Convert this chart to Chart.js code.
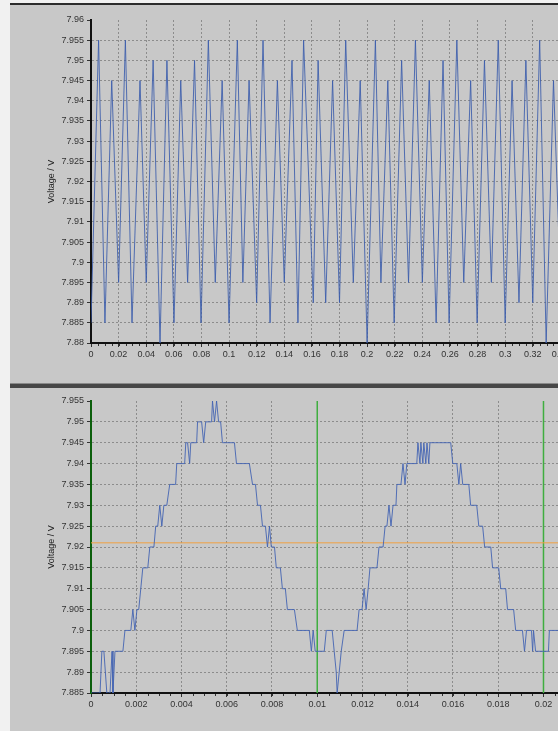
<!DOCTYPE html>
<html>
<head>
<meta charset="utf-8">
<script src="https://cdn.jsdelivr.net/npm/chart.js@4.4.1/dist/chart.umd.min.js"></script>
<style>
  body { margin: 0; width: 558px; height: 731px; overflow: hidden; background: #c8c8c8; position: relative; }
  .abs { position: absolute; }
  .box { position: absolute; overflow: hidden; }
</style>
</head>
<body>
<div class="abs" style="left:0;top:0;width:10px;height:731px;background:#f1f1f1"></div>
<div class="abs" style="left:10px;top:0;width:548px;height:3px;background:#f1f1f1"></div>
<div class="abs" style="left:10px;top:3px;width:548px;height:2px;background:#2c2c2c"></div>
<div class="box" style="left:10px;top:4px;width:548px;height:379px">
  <canvas id="topChart" width="590" height="379"></canvas>
</div>
<div class="abs" style="left:10px;top:383px;width:548px;height:5px;background:linear-gradient(#8a8a8a 0 1px,#474747 1px 5px)"></div>
<div class="box" style="left:10px;top:388px;width:548px;height:343px">
  <canvas id="botChart" width="592" height="343"></canvas>
</div>
<script>
// top panel: 0.34 s record, trough / peak of each half period
const topTimes = [0.0000, 0.0055, 0.0101, 0.0150, 0.0200, 0.0249, 0.0297, 0.0355, 0.0400, 0.0450,
  0.0500, 0.0550, 0.0601, 0.0650, 0.0700, 0.0750, 0.0797, 0.0850, 0.0900, 0.0950,
  0.1000, 0.1060, 0.1100, 0.1145, 0.1200, 0.1246, 0.1297, 0.1350, 0.1400, 0.1456,
  0.1499, 0.1540, 0.1610, 0.1645, 0.1700, 0.1750, 0.1800, 0.1845, 0.1900, 0.1950,
  0.2000, 0.2060, 0.2100, 0.2150, 0.2196, 0.2250, 0.2300, 0.2350, 0.2400, 0.2450,
  0.2500, 0.2550, 0.2594, 0.2650, 0.2700, 0.2750, 0.2797, 0.2850, 0.2900, 0.2950,
  0.3000, 0.3050, 0.3100, 0.3150, 0.3200, 0.3250, 0.3297, 0.3350, 0.3400, 0.3450,
  0.3500, 0.3550, 0.3600, 0.3650];
const topVolts = [7.885, 7.955, 7.885, 7.945, 7.895, 7.955, 7.885, 7.945, 7.895, 7.95,
  7.88, 7.95, 7.885, 7.945, 7.895, 7.95, 7.885, 7.955, 7.895, 7.945,
  7.885, 7.955, 7.895, 7.945, 7.89, 7.955, 7.885, 7.945, 7.895, 7.95,
  7.885, 7.955, 7.89, 7.95, 7.89, 7.945, 7.89, 7.955, 7.895, 7.945,
  7.88, 7.955, 7.895, 7.945, 7.885, 7.95, 7.895, 7.955, 7.895, 7.945,
  7.885, 7.95, 7.885, 7.955, 7.895, 7.945, 7.885, 7.95, 7.895, 7.955,
  7.885, 7.945, 7.89, 7.95, 7.89, 7.955, 7.88, 7.945, 7.895, 7.95,
  7.89, 7.945, 7.895, 7.95];

// bottom panel: zoom on the first 0.02 s
const botTimes = [0, 0.0004, 0.00048, 0.00057, 0.0007, 0.00084, 0.00093, 0.00097, 0.00106, 0.00141,
  0.0015, 0.00176, 0.00185, 0.00194, 0.00203, 0.00211, 0.0022, 0.00229, 0.00251, 0.0026,
  0.00278, 0.00286, 0.00295, 0.00304, 0.00313, 0.00322, 0.00335, 0.00348, 0.00374, 0.00379,
  0.00414, 0.00419, 0.00427, 0.00436, 0.00441, 0.00467, 0.00471, 0.00489, 0.00498, 0.00507,
  0.00533, 0.00537, 0.00546, 0.00555, 0.00564, 0.00573, 0.00581, 0.00634, 0.00643, 0.007,
  0.00714, 0.00727, 0.00736, 0.00749, 0.00758, 0.00771, 0.0078, 0.00789, 0.00797, 0.00811,
  0.00819, 0.00837, 0.00846, 0.00859, 0.00868, 0.00899, 0.00912, 0.00965, 0.00974, 0.00982,
  0.00991, 0.01031, 0.0104, 0.01066, 0.01075, 0.01084, 0.01088, 0.01097, 0.01106, 0.01119,
  0.01176, 0.01185, 0.01198, 0.01207, 0.01216, 0.01225, 0.01233, 0.01264, 0.01273, 0.01291,
  0.013, 0.01308, 0.01317, 0.01326, 0.01335, 0.01348, 0.01352, 0.0137, 0.01379, 0.01388,
  0.01396, 0.0144, 0.01445, 0.01454, 0.01458, 0.01467, 0.01471, 0.0148, 0.01485, 0.01493,
  0.01498, 0.0159, 0.01599, 0.01617, 0.01626, 0.01634, 0.01643, 0.0167, 0.01678, 0.01705,
  0.01714, 0.01731, 0.0174, 0.01767, 0.01775, 0.01802, 0.01811, 0.01833, 0.01841, 0.01868,
  0.01877, 0.01907, 0.01916, 0.01925, 0.01947, 0.01952, 0.01956, 0.01965, 0.02022, 0.02026,
  0.0225];
const botVolts = [7.885, 7.885, 7.895, 7.895, 7.885, 7.885, 7.895, 7.885, 7.895, 7.895,
  7.9, 7.9, 7.905, 7.9, 7.905, 7.905, 7.91, 7.915, 7.915, 7.92,
  7.92, 7.925, 7.925, 7.93, 7.925, 7.93, 7.93, 7.935, 7.935, 7.94,
  7.94, 7.945, 7.945, 7.94, 7.945, 7.945, 7.95, 7.95, 7.945, 7.95,
  7.95, 7.955, 7.95, 7.955, 7.95, 7.95, 7.945, 7.945, 7.94, 7.94,
  7.935, 7.935, 7.93, 7.93, 7.925, 7.925, 7.92, 7.925, 7.92, 7.92,
  7.915, 7.915, 7.91, 7.91, 7.905, 7.905, 7.9, 7.9, 7.895, 7.9,
  7.895, 7.895, 7.9, 7.9, 7.895, 7.89, 7.885, 7.89, 7.895, 7.9,
  7.9, 7.905, 7.905, 7.91, 7.905, 7.91, 7.915, 7.915, 7.92, 7.92,
  7.925, 7.925, 7.93, 7.925, 7.93, 7.93, 7.935, 7.935, 7.94, 7.935,
  7.94, 7.94, 7.945, 7.94, 7.945, 7.94, 7.945, 7.94, 7.945, 7.94,
  7.945, 7.945, 7.94, 7.94, 7.935, 7.94, 7.935, 7.935, 7.93, 7.93,
  7.925, 7.925, 7.92, 7.92, 7.915, 7.915, 7.91, 7.91, 7.905, 7.905,
  7.9, 7.9, 7.895, 7.9, 7.9, 7.895, 7.9, 7.895, 7.895, 7.9,
  7.9];

// cursors on the bottom panel
const cursorTimes = [0.01, 0.02];
const levelVolt = 7.921;

Chart.defaults.font.family = "'Liberation Sans Narrow', 'Liberation Sans', Arial, sans-serif";
Chart.defaults.font.size = 9;
Chart.defaults.color = '#333';

function pairs(xs, ys) {
  return xs.map((x, i) => ({ x: x, y: ys[i] }));
}

const minorTicks = {
  id: 'minorTicks',
  afterDraw(chart, args, opts) {
    const s = chart.scales.x, c = chart.ctx;
    c.save();
    c.strokeStyle = '#333';
    c.lineWidth = 1;
    c.beginPath();
    for (let i = 0; ; i++) {
      const v = s.min + i * opts.step;
      if (v > s.max + 1e-12) break;
      const px = Math.round(s.getPixelForValue(v)) + 0.5;
      c.moveTo(px, s.top + 1);
      c.lineTo(px, s.top + 3);
    }
    c.stroke();
    c.restore();
  }
};

function makeScales(o) {
  return {
    x: {
      type: 'linear', min: o.xMin, max: o.xMax,
      afterFit: s => { s.height = o.xH; },
      grid: { color: '#8c8c8c', tickLength: 4, tickColor: '#333' },
      border: { color: '#111', width: 2, dash: [2, 2] },
      ticks: { stepSize: o.xStep, includeBounds: false, autoSkip: false, maxRotation: 0, padding: 2,
        callback: v => String(+v.toFixed(o.xDec)) }
    },
    y: {
      type: 'linear', min: o.yMin, max: o.yMax,
      afterFit: s => { s.width = 81; },
      grid: {
        color: c => (c.tick && c.tick.value > o.yMax - 1e-9) ? 'rgba(0,0,0,0)' : '#8c8c8c',
        tickLength: 4, tickColor: '#333'
      },
      border: { color: o.yAxisColor, width: 2, dash: [2, 2] },
      ticks: { stepSize: 0.005, includeBounds: false, autoSkip: false, padding: 3,
        callback: v => String(+v.toFixed(3)) },
      title: { display: true, text: 'Voltage / V', color: '#222', font: { size: 9 }, padding: { top: 36, bottom: 0 } }
    }
  };
}

new Chart(document.getElementById('topChart'), {
  type: 'line',
  data: {
    datasets: [{
      data: pairs(topTimes, topVolts),
      borderColor: 'rgba(58,92,172,0.85)', borderWidth: 1, pointRadius: 0, tension: 0
    }]
  },
  options: {
    responsive: false, animation: false,
    layout: { padding: { top: 16, right: 12, left: 0, bottom: 0 } },
    plugins: { legend: { display: false }, tooltip: { enabled: false }, minorTicks: { step: 0.005 } },
    scales: makeScales({ xMin: 0, xMax: 0.36, xStep: 0.02, xDec: 2, xH: 40, yMin: 7.88, yMax: 7.96, yAxisColor: '#111' })
  },
  plugins: [minorTicks]
});

const cursorSets = cursorTimes.map(t => ({
  data: [{ x: t, y: 7.885 }, { x: t, y: 7.955 }],
  borderColor: '#3fae3f', borderWidth: 1.5, pointRadius: 0
}));

new Chart(document.getElementById('botChart'), {
  type: 'line',
  data: {
    datasets: [
      {
        data: pairs(botTimes, botVolts),
        borderColor: 'rgba(68,100,178,0.9)', borderWidth: 1, pointRadius: 0, tension: 0
      },
      {
        data: [{ x: 0, y: levelVolt }, { x: 0.0225, y: levelVolt }],
        borderColor: '#f0a040', borderWidth: 1, pointRadius: 0
      }
    ].concat(cursorSets)
  },
  options: {
    responsive: false, animation: false,
    layout: { padding: { top: 13, right: 12, left: 0, bottom: 0 } },
    plugins: { legend: { display: false }, tooltip: { enabled: false }, minorTicks: { step: 0.0005 } },
    scales: makeScales({ xMin: 0, xMax: 0.022, xStep: 0.002, xDec: 3, xH: 38, yMin: 7.885, yMax: 7.955, yAxisColor: '#0b5e0b' })
  },
  plugins: [minorTicks]
});
</script>
</body>
</html>
